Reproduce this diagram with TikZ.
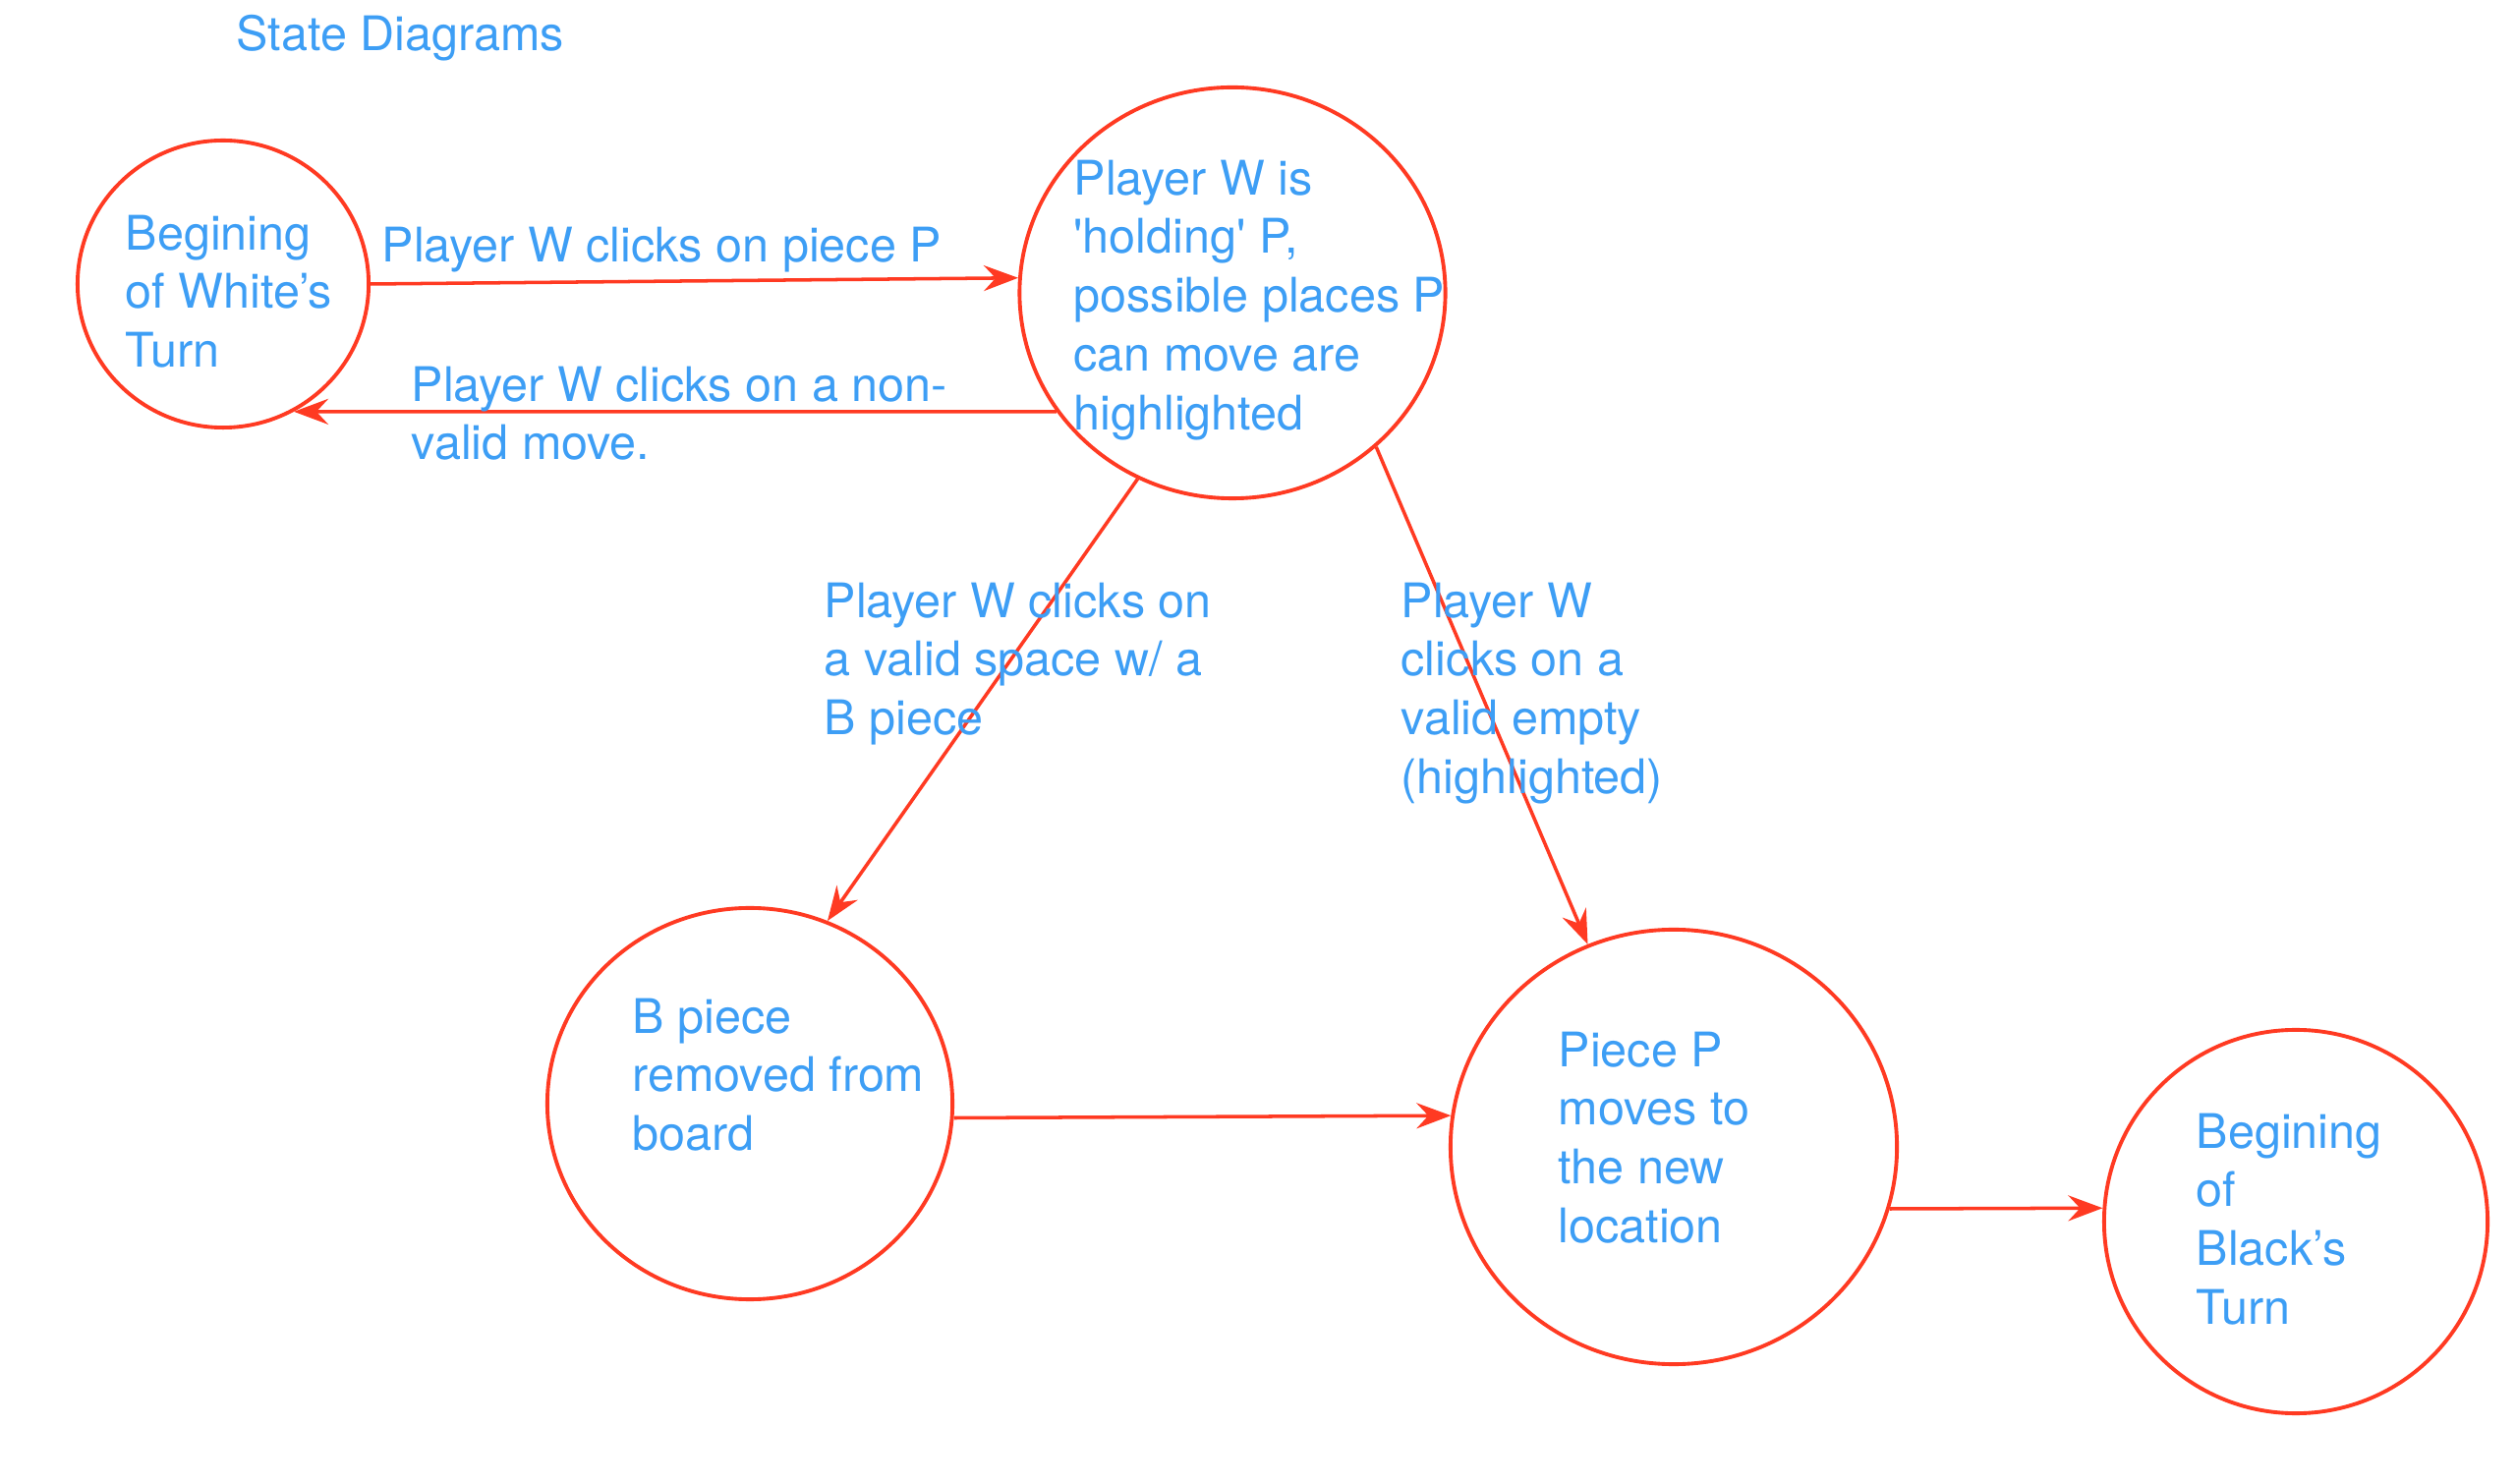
\documentclass[tikz,border=0pt]{standalone}
\usepackage{fontspec}
\setmainfont{TeX Gyre Heros}
\usetikzlibrary{arrows.meta, shapes.geometric}
\definecolor{sdRed}{HTML}{FF3A22}
\definecolor{sdBlue}{HTML}{3D9EF5}
\tikzset{
  state/.style  = {ellipse, draw=sdRed, line width=1.1pt, inner sep=0pt},
  stxt/.style   = {sdBlue, font=\fontsize{13.8}{17}\selectfont, align=left,
                   inner sep=0pt, anchor=north west},
  trans/.style  = {sdRed, line width=1pt,
                   -{Stealth[length=3.5mm, width=2.6mm, inset=1.2mm]}},
}
\begin{document}
\begin{tikzpicture}[x=0.01cm, y=-0.01cm]
\useasboundingbox (0,0) rectangle (2560,1510);

% ---- title ----------------------------------------------------------------
\node[stxt, anchor=base west] (title) at (240,52) {State Diagrams};

% ---- states ---------------------------------------------------------------
\node[state, minimum width=2.96cm, minimum height=2.92cm] (white) at (227,289)  {};
\node[state, minimum width=4.33cm, minimum height=4.18cm] (hold)  at (1254,298) {};
\node[state, minimum width=4.12cm, minimum height=3.98cm] (bpc)   at (763,1123) {};
\node[state, minimum width=4.54cm, minimum height=4.42cm] (move)  at (1703,1167) {};
\node[state, minimum width=3.90cm, minimum height=3.90cm] (black) at (2336,1243) {};

\node[stxt] (whitetxt) at (127,218)   {Begining\\of White’s\\Turn};
\node[stxt] (holdtxt)  at (1092,162)  {Player W is\\\textquotesingle holding\textquotesingle{} P,\\possible places P\\can move are\\highlighted};
\node[stxt] (bpctxt)   at (643,1015)  {B piece\\removed from\\board};
\node[stxt] (movetxt)  at (1585,1049) {Piece P\\moves to\\the new\\location};
\node[stxt] (blacktxt) at (2234,1132) {Begining\\of\\Black’s\\Turn};

% ---- transitions ----------------------------------------------------------
\draw[trans] (white.0)   -- (hold.176);
\draw[trans] (hold.214)  -- (white.299);
\draw[trans] (hold.243)  -- (bpc.67);
\draw[trans] (hold.313)  -- (move.113);
\draw[trans] (bpc.356)   -- (move.172);
\draw[trans] (move.344)  -- (black.176);

% ---- transition labels ----------------------------------------------------
\node[stxt, anchor=base west] (lclick) at (388,267) {Player W clicks on piece P};
\node[stxt] (lnonvalid) at (418,372)  {Player W clicks on a non-\\valid move.};
\node[stxt] (lcapture)  at (838,592)  {Player W clicks on\\a valid space w/ a\\B piece};
\node[stxt] (lempty)    at (1425,592) {Player W\\clicks on a\\valid empty\\(highlighted)};

\end{tikzpicture}
\end{document}
